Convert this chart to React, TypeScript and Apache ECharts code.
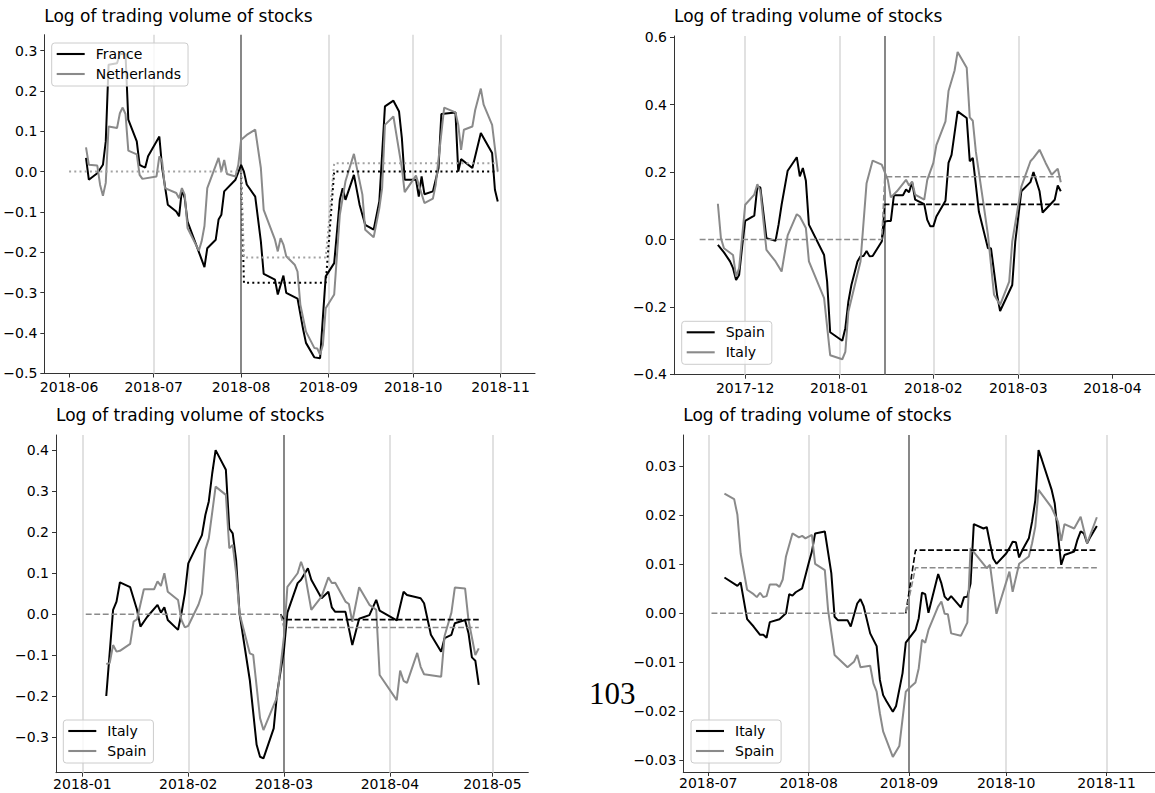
import React, { useEffect, useRef } from "react";
import * as echarts from "echarts";

type Pt = [string, number];

const TITLE = "Log of trading volume of stocks";
const PAGE_NUMBER = "103";

// ---------------- Panel 1 : France / Netherlands ----------------
const p1Names = ["France", "Netherlands"];
const p1France: Pt[] = [
  ["2018-06-07", 0.034], ["2018-06-08", -0.02], ["2018-06-11", -0.004], ["2018-06-13", 0.017],
  ["2018-06-14", 0.075], ["2018-06-15", 0.265], ["2018-06-18", 0.269], ["2018-06-19", 0.292],
  ["2018-06-21", 0.292], ["2018-06-22", 0.129], ["2018-06-25", 0.075], ["2018-06-26", 0.017],
  ["2018-06-27", 0.013], ["2018-06-28", 0.01], ["2018-06-29", 0.038], ["2018-07-03", 0.087],
  ["2018-07-04", 0.009], ["2018-07-06", -0.082], ["2018-07-09", -0.099], ["2018-07-10", -0.111],
  ["2018-07-11", -0.045], ["2018-07-12", -0.066], ["2018-07-13", -0.124], ["2018-07-19", -0.237],
  ["2018-07-20", -0.19], ["2018-07-23", -0.169], ["2018-07-24", -0.119], ["2018-07-25", -0.107],
  ["2018-07-26", -0.049], ["2018-07-30", -0.02], ["2018-08-01", 0.017], ["2018-08-02", 0.0],
  ["2018-08-03", -0.032], ["2018-08-06", -0.062], ["2018-08-08", -0.173], ["2018-08-09", -0.254],
  ["2018-08-13", -0.268], ["2018-08-14", -0.305], ["2018-08-16", -0.258], ["2018-08-17", -0.301],
  ["2018-08-21", -0.315], ["2018-08-23", -0.392], ["2018-08-24", -0.425], ["2018-08-27", -0.461],
  ["2018-08-29", -0.463], ["2018-08-31", -0.26], ["2018-09-03", -0.227], ["2018-09-05", -0.07],
  ["2018-09-06", -0.041], ["2018-09-07", -0.07], ["2018-09-10", -0.008], ["2018-09-12", -0.082],
  ["2018-09-14", -0.132], ["2018-09-17", -0.144], ["2018-09-19", -0.074], ["2018-09-21", 0.162],
  ["2018-09-24", 0.176], ["2018-09-26", 0.149], ["2018-09-27", 0.083], ["2018-09-28", -0.02],
  ["2018-10-02", -0.02], ["2018-10-03", -0.062], ["2018-10-04", -0.012], ["2018-10-05", -0.056],
  ["2018-10-08", -0.049], ["2018-10-10", 0.009], ["2018-10-11", 0.143], ["2018-10-16", 0.147],
  ["2018-10-17", 0.0], ["2018-10-18", 0.031], ["2018-10-22", 0.009], ["2018-10-25", 0.096],
  ["2018-10-29", 0.046], ["2018-10-30", -0.045], ["2018-10-31", -0.074],
];
const p1Netherlands: Pt[] = [
  ["2018-06-07", 0.06], ["2018-06-08", 0.017], ["2018-06-11", 0.015], ["2018-06-12", -0.033],
  ["2018-06-13", -0.06], ["2018-06-14", -0.028], ["2018-06-15", 0.112], ["2018-06-18", 0.108],
  ["2018-06-19", 0.145], ["2018-06-20", 0.159], ["2018-06-21", 0.143], ["2018-06-22", 0.052],
  ["2018-06-25", 0.043], ["2018-06-26", -0.008], ["2018-06-27", -0.018], ["2018-07-02", -0.012],
  ["2018-07-03", 0.038], ["2018-07-04", 0.025], ["2018-07-05", -0.041], ["2018-07-09", -0.053],
  ["2018-07-10", -0.066], ["2018-07-11", -0.041], ["2018-07-12", -0.057], ["2018-07-13", -0.14],
  ["2018-07-17", -0.196], ["2018-07-18", -0.173], ["2018-07-19", -0.135], ["2018-07-20", -0.041],
  ["2018-07-24", 0.034], ["2018-07-25", 0.0], ["2018-07-26", 0.029], ["2018-07-27", -0.006],
  ["2018-07-30", -0.012], ["2018-07-31", 0.017], ["2018-08-01", 0.079], ["2018-08-03", 0.091],
  ["2018-08-06", 0.104], ["2018-08-08", 0.009], ["2018-08-09", -0.095], ["2018-08-13", -0.169],
  ["2018-08-14", -0.198], ["2018-08-15", -0.165], ["2018-08-16", -0.181], ["2018-08-17", -0.21],
  ["2018-08-20", -0.231], ["2018-08-21", -0.248], ["2018-08-22", -0.33], ["2018-08-24", -0.397],
  ["2018-08-27", -0.438], ["2018-08-28", -0.439], ["2018-08-29", -0.454], ["2018-08-30", -0.43],
  ["2018-08-31", -0.339], ["2018-09-03", -0.305], ["2018-09-05", -0.107], ["2018-09-07", -0.024],
  ["2018-09-10", 0.044], ["2018-09-13", -0.057], ["2018-09-14", -0.144], ["2018-09-17", -0.163],
  ["2018-09-19", -0.091], ["2018-09-20", -0.041], ["2018-09-21", 0.116], ["2018-09-24", 0.137],
  ["2018-09-27", 0.009], ["2018-09-28", -0.051], ["2018-10-02", -0.01], ["2018-10-05", -0.078],
  ["2018-10-08", -0.067], ["2018-10-09", -0.033], ["2018-10-12", 0.159], ["2018-10-16", 0.147],
  ["2018-10-17", 0.116], ["2018-10-18", 0.054], ["2018-10-19", 0.104], ["2018-10-22", 0.112],
  ["2018-10-23", 0.153], ["2018-10-25", 0.206], ["2018-10-26", 0.166], ["2018-10-29", 0.116],
  ["2018-10-31", 0.0],
];
const p1FranceMean: Pt[] = [
  ["2018-08-01", 0], ["2018-08-02", -0.276], ["2018-08-31", -0.276], ["2018-09-03", 0], ["2018-10-31", 0],
];
const p1NetherlandsMean: Pt[] = [
  ["2018-06-01", 0], ["2018-08-01", 0], ["2018-08-02", -0.213], ["2018-08-31", -0.213],
  ["2018-09-03", 0.021], ["2018-10-31", 0.021],
];
const p1Event = "2018-08-01";
const p1GridDates = ["2018-07-01", "2018-09-01", "2018-10-01", "2018-11-01"];
const p1XTicks = ["2018-06-01", "2018-07-01", "2018-08-01", "2018-09-01", "2018-10-01", "2018-11-01"];
const p1XRange = ["2018-05-23 05:00", "2018-11-13 05:00"];
const p1YTicks = [-0.5, -0.4, -0.3, -0.2, -0.1, 0, 0.1, 0.2, 0.3];
const p1YRange = [-0.501, 0.3398];

// ---------------- Panel 2 : Spain / Italy ----------------
const p2Names = ["Spain", "Italy"];
const p2Spain: Pt[] = [
  ["2017-11-22", -0.016], ["2017-11-24", -0.038], ["2017-11-26", -0.065], ["2017-11-27", -0.085],
  ["2017-11-28", -0.12], ["2017-11-29", -0.105], ["2017-11-30", -0.021], ["2017-12-01", 0.055],
  ["2017-12-04", 0.071], ["2017-12-05", 0.157], ["2017-12-06", 0.154], ["2017-12-08", 0.004],
  ["2017-12-11", -0.004], ["2017-12-12", 0.044], ["2017-12-13", 0.103], ["2017-12-15", 0.204],
  ["2017-12-18", 0.244], ["2017-12-19", 0.187], ["2017-12-20", 0.212], ["2017-12-21", 0.174],
  ["2017-12-22", 0.044], ["2017-12-27", -0.046], ["2017-12-28", -0.125], ["2017-12-29", -0.275],
  ["2018-01-02", -0.3], ["2018-01-03", -0.263], ["2018-01-04", -0.184], ["2018-01-05", -0.135],
  ["2018-01-07", -0.065], ["2018-01-08", -0.05], ["2018-01-09", -0.049], ["2018-01-10", -0.034],
  ["2018-01-11", -0.05], ["2018-01-12", -0.049], ["2018-01-15", -0.006], ["2018-01-16", 0.053],
  ["2018-01-17", 0.055], ["2018-01-18", 0.055], ["2018-01-19", 0.131], ["2018-01-22", 0.131],
  ["2018-01-23", 0.148], ["2018-01-24", 0.14], ["2018-01-25", 0.17], ["2018-01-26", 0.118],
  ["2018-01-29", 0.105], ["2018-01-30", 0.058], ["2018-01-31", 0.039], ["2018-02-01", 0.039],
  ["2018-02-02", 0.068], ["2018-02-05", 0.115], ["2018-02-06", 0.227], ["2018-02-07", 0.251],
  ["2018-02-09", 0.38], ["2018-02-12", 0.36], ["2018-02-13", 0.232], ["2018-02-14", 0.242],
  ["2018-02-16", 0.083], ["2018-02-19", -0.026], ["2018-02-20", -0.026], ["2018-02-22", -0.164],
  ["2018-02-23", -0.212], ["2018-02-27", -0.135], ["2018-02-28", -0.006], ["2018-03-02", 0.143],
  ["2018-03-05", 0.17], ["2018-03-06", 0.2], ["2018-03-08", 0.143], ["2018-03-09", 0.08],
  ["2018-03-13", 0.118], ["2018-03-14", 0.16], ["2018-03-15", 0.143],
];
const p2Italy: Pt[] = [
  ["2017-11-22", 0.106], ["2017-11-23", 0.004], ["2017-11-24", -0.026], ["2017-11-27", -0.046],
  ["2017-11-28", -0.11], ["2017-11-29", -0.085], ["2017-12-01", 0.103], ["2017-12-04", 0.133],
  ["2017-12-05", 0.164], ["2017-12-06", 0.143], ["2017-12-08", -0.031], ["2017-12-11", -0.065],
  ["2017-12-13", -0.095], ["2017-12-15", 0.012], ["2017-12-18", 0.075], ["2017-12-19", 0.068],
  ["2017-12-21", 0.034], ["2017-12-22", -0.065], ["2017-12-27", -0.174], ["2017-12-29", -0.343],
  ["2018-01-02", -0.355], ["2018-01-03", -0.333], ["2018-01-04", -0.214], ["2018-01-08", -0.065],
  ["2018-01-10", 0.167], ["2018-01-12", 0.234], ["2018-01-15", 0.222], ["2018-01-17", 0.177],
  ["2018-01-18", 0.125], ["2018-01-20", 0.143], ["2018-01-23", 0.177], ["2018-01-24", 0.16],
  ["2018-01-25", 0.172], ["2018-01-26", 0.133], ["2018-01-29", 0.118], ["2018-01-30", 0.177],
  ["2018-02-01", 0.227], ["2018-02-02", 0.28], ["2018-02-05", 0.35], ["2018-02-06", 0.44],
  ["2018-02-08", 0.501], ["2018-02-09", 0.556], ["2018-02-12", 0.509], ["2018-02-13", 0.362],
  ["2018-02-14", 0.352], ["2018-02-15", 0.261], ["2018-02-17", 0.138], ["2018-02-19", 0.014],
  ["2018-02-21", -0.164], ["2018-02-23", -0.194], ["2018-02-26", -0.125], ["2018-02-27", -0.006],
  ["2018-03-02", 0.157], ["2018-03-05", 0.232], ["2018-03-06", 0.242], ["2018-03-08", 0.266],
  ["2018-03-10", 0.227], ["2018-03-12", 0.192], ["2018-03-14", 0.21], ["2018-03-15", 0.17],
];
const p2SpainMean: Pt[] = [["2018-01-15", 0], ["2018-01-16", 0.104], ["2018-03-15", 0.104]];
const p2ItalyMean: Pt[] = [["2017-11-16", 0], ["2018-01-15", 0], ["2018-01-16", 0.186], ["2018-03-15", 0.186]];
const p2Event = "2018-01-16";
const p2GridDates = ["2017-12-01", "2018-01-01", "2018-02-01", "2018-03-01"];
const p2XTicks = ["2017-12-01", "2018-01-01", "2018-02-01", "2018-03-01", "2018-04-01"];
const p2XRange = ["2017-11-07 13:00", "2018-04-15 01:00"];
const p2YTicks = [-0.4, -0.2, 0, 0.2, 0.4, 0.6];
const p2YRange = [-0.4008, 0.6033];

// ---------------- Panel 3 : Italy / Spain ----------------
const p3Names = ["Italy", "Spain"];
const p3Italy: Pt[] = [
  ["2018-01-08", -0.199], ["2018-01-10", 0.011], ["2018-01-11", 0.031], ["2018-01-12", 0.078],
  ["2018-01-15", 0.066], ["2018-01-17", 0.011], ["2018-01-18", -0.03], ["2018-01-20", -0.006],
  ["2018-01-23", 0.023], ["2018-01-24", 0.004], ["2018-01-25", 0.017], ["2018-01-26", -0.014],
  ["2018-01-29", -0.038], ["2018-01-30", 0.002], ["2018-01-31", 0.051], ["2018-02-01", 0.124],
  ["2018-02-05", 0.193], ["2018-02-06", 0.242], ["2018-02-07", 0.275], ["2018-02-08", 0.343],
  ["2018-02-09", 0.4], ["2018-02-12", 0.352], ["2018-02-13", 0.209], ["2018-02-14", 0.197],
  ["2018-02-15", 0.132], ["2018-02-16", 0.002], ["2018-02-19", -0.16], ["2018-02-21", -0.318],
  ["2018-02-22", -0.347], ["2018-02-23", -0.351], ["2018-02-26", -0.278], ["2018-02-27", -0.192],
  ["2018-03-01", -0.087], ["2018-03-02", 0.004], ["2018-03-05", 0.076], ["2018-03-06", 0.084],
  ["2018-03-08", 0.112], ["2018-03-09", 0.084], ["2018-03-12", 0.039], ["2018-03-14", 0.055],
  ["2018-03-15", 0.017], ["2018-03-16", 0.006], ["2018-03-19", 0.006], ["2018-03-21", -0.075],
  ["2018-03-23", -0.011], ["2018-03-26", -0.002], ["2018-03-28", 0.035], ["2018-03-29", 0.009],
  ["2018-04-03", -0.015], ["2018-04-05", 0.055], ["2018-04-06", 0.047], ["2018-04-10", 0.039],
  ["2018-04-11", 0.027], ["2018-04-13", -0.05], ["2018-04-16", -0.091], ["2018-04-17", -0.058],
  ["2018-04-19", -0.05], ["2018-04-20", -0.022], ["2018-04-23", -0.014], ["2018-04-24", -0.046],
  ["2018-04-25", -0.105], ["2018-04-26", -0.113], ["2018-04-27", -0.172],
];
const p3Spain: Pt[] = [
  ["2018-01-08", -0.121], ["2018-01-09", -0.119], ["2018-01-10", -0.075], ["2018-01-11", -0.091],
  ["2018-01-12", -0.089], ["2018-01-15", -0.072], ["2018-01-16", -0.018], ["2018-01-17", -0.012],
  ["2018-01-19", 0.061], ["2018-01-22", 0.061], ["2018-01-23", 0.08], ["2018-01-24", 0.069],
  ["2018-01-25", 0.1], ["2018-01-26", 0.055], ["2018-01-29", 0.035], ["2018-01-30", -0.014],
  ["2018-01-31", -0.032], ["2018-02-01", -0.028], ["2018-02-04", 0.024], ["2018-02-05", 0.05],
  ["2018-02-06", 0.157], ["2018-02-07", 0.185], ["2018-02-09", 0.311], ["2018-02-12", 0.291],
  ["2018-02-13", 0.161], ["2018-02-14", 0.169], ["2018-02-15", 0.1], ["2018-02-16", 0.002],
  ["2018-02-19", -0.095], ["2018-02-20", -0.099], ["2018-02-22", -0.253], ["2018-02-23", -0.282],
  ["2018-02-27", -0.201], ["2018-03-01", -0.054], ["2018-03-02", 0.067], ["2018-03-05", 0.1],
  ["2018-03-06", 0.128], ["2018-03-07", 0.104], ["2018-03-09", 0.011], ["2018-03-12", 0.043],
  ["2018-03-14", 0.09], ["2018-03-15", 0.076], ["2018-03-16", 0.077], ["2018-03-19", 0.031],
  ["2018-03-20", 0.025], ["2018-03-21", -0.018], ["2018-03-23", 0.066], ["2018-03-26", 0.023],
  ["2018-03-28", 0.011], ["2018-03-29", -0.148], ["2018-04-03", -0.209], ["2018-04-04", -0.137],
  ["2018-04-05", -0.162], ["2018-04-06", -0.167], ["2018-04-09", -0.094], ["2018-04-10", -0.128],
  ["2018-04-11", -0.146], ["2018-04-16", -0.152], ["2018-04-17", -0.053], ["2018-04-19", 0.004],
  ["2018-04-20", 0.065], ["2018-04-23", 0.063], ["2018-04-24", -0.014], ["2018-04-26", -0.099],
  ["2018-04-27", -0.083],
];
const p3ItalyMean: Pt[] = [["2018-02-28", 0], ["2018-03-01", -0.013], ["2018-04-27", -0.013]];
const p3SpainMean: Pt[] = [["2018-01-02", 0], ["2018-02-28", 0], ["2018-03-01", -0.032], ["2018-04-27", -0.032]];
const p3Event = "2018-03-01";
const p3GridDates = ["2018-01-01", "2018-02-01", "2018-04-01", "2018-05-01"];
const p3XTicks = ["2018-01-01", "2018-02-01", "2018-03-01", "2018-04-01", "2018-05-01"];
const p3XRange = ["2017-12-24 07:00", "2018-05-11 12:00"];
const p3YTicks = [-0.3, -0.2, -0.1, 0, 0.1, 0.2, 0.3, 0.4];
const p3YRange = [-0.3859, 0.4368];

// ---------------- Panel 4 : Italy / Spain ----------------
const p4Names = ["Italy", "Spain"];
const p4Italy: Pt[] = [
  ["2018-07-06", 0.0073], ["2018-07-10", 0.0056], ["2018-07-11", 0.0063], ["2018-07-13", -0.0012],
  ["2018-07-15", -0.0027], ["2018-07-17", -0.0044], ["2018-07-18", -0.0044], ["2018-07-19", -0.005],
  ["2018-07-20", -0.0018], ["2018-07-23", -0.0012], ["2018-07-25", 0.0], ["2018-07-26", 0.0039],
  ["2018-07-27", 0.0036], ["2018-07-28", 0.0043], ["2018-07-30", 0.0051], ["2018-08-01", 0.0102],
  ["2018-08-02", 0.0126], ["2018-08-03", 0.0163], ["2018-08-06", 0.0167], ["2018-08-08", 0.0082],
  ["2018-08-09", -0.0007], ["2018-08-10", -0.0014], ["2018-08-13", -0.0014], ["2018-08-14", -0.0027],
  ["2018-08-16", 0.002], ["2018-08-17", 0.0029], ["2018-08-18", 0.0014], ["2018-08-20", -0.0041],
  ["2018-08-22", -0.0067], ["2018-08-23", -0.0136], ["2018-08-24", -0.0167], ["2018-08-25", -0.0179],
  ["2018-08-27", -0.0201], ["2018-08-28", -0.0189], ["2018-08-30", -0.0122], ["2018-08-31", -0.006],
  ["2018-09-03", -0.0034], ["2018-09-04", -0.001], ["2018-09-05", 0.0042], ["2018-09-06", 0.0039],
  ["2018-09-07", 0.0001], ["2018-09-10", 0.008], ["2018-09-11", 0.0061], ["2018-09-12", 0.0034],
  ["2018-09-13", 0.0027], ["2018-09-14", 0.0035], ["2018-09-17", 0.0012], ["2018-09-18", 0.0033],
  ["2018-09-19", 0.0034], ["2018-09-20", 0.0061], ["2018-09-21", 0.0182], ["2018-09-24", 0.0173],
  ["2018-09-25", 0.0176], ["2018-09-26", 0.0143], ["2018-09-27", 0.0112], ["2018-09-28", 0.0101],
  ["2018-10-01", 0.0122], ["2018-10-02", 0.0133], ["2018-10-03", 0.0146], ["2018-10-04", 0.0145],
  ["2018-10-05", 0.0114], ["2018-10-06", 0.0129], ["2018-10-08", 0.0153], ["2018-10-09", 0.0187],
  ["2018-10-10", 0.0231], ["2018-10-11", 0.0333], ["2018-10-12", 0.0314], ["2018-10-15", 0.0253],
  ["2018-10-16", 0.0224], ["2018-10-17", 0.016], ["2018-10-18", 0.0099], ["2018-10-19", 0.0119],
  ["2018-10-22", 0.0126], ["2018-10-23", 0.015], ["2018-10-24", 0.0167], ["2018-10-25", 0.0163],
  ["2018-10-26", 0.0143], ["2018-10-27", 0.0156], ["2018-10-29", 0.0178],
];
const p4Spain: Pt[] = [
  ["2018-07-06", 0.0244], ["2018-07-09", 0.0233], ["2018-07-10", 0.0201], ["2018-07-11", 0.0122],
  ["2018-07-13", 0.0048], ["2018-07-15", 0.0039], ["2018-07-16", 0.0033], ["2018-07-17", 0.0042],
  ["2018-07-18", 0.0033], ["2018-07-19", 0.0035], ["2018-07-20", 0.0059], ["2018-07-22", 0.0059],
  ["2018-07-23", 0.0054], ["2018-07-24", 0.0069], ["2018-07-25", 0.0116], ["2018-07-27", 0.0163],
  ["2018-07-29", 0.0155], ["2018-07-30", 0.0158], ["2018-07-31", 0.0153], ["2018-08-02", 0.016],
  ["2018-08-03", 0.0101], ["2018-08-06", 0.0088], ["2018-08-07", 0.0007], ["2018-08-09", -0.0085],
  ["2018-08-13", -0.011], ["2018-08-15", -0.0099], ["2018-08-16", -0.0085], ["2018-08-17", -0.011],
  ["2018-08-20", -0.0107], ["2018-08-21", -0.0143], ["2018-08-22", -0.016], ["2018-08-23", -0.0204],
  ["2018-08-24", -0.0241], ["2018-08-27", -0.0293], ["2018-08-29", -0.0271], ["2018-08-31", -0.016],
  ["2018-09-01", -0.0153], ["2018-09-03", -0.0141], ["2018-09-04", -0.0112], ["2018-09-05", -0.0054],
  ["2018-09-06", -0.006], ["2018-09-07", -0.0034], ["2018-09-10", 0.0014], ["2018-09-11", 0.0024],
  ["2018-09-12", -0.0001], ["2018-09-13", -0.0002], ["2018-09-14", -0.0041], ["2018-09-17", -0.0046],
  ["2018-09-19", -0.0019], ["2018-09-20", 0.0133], ["2018-09-25", 0.0092], ["2018-09-26", 0.0099],
  ["2018-09-28", -0.0001], ["2018-10-02", 0.0085], ["2018-10-03", 0.0044], ["2018-10-05", 0.0101],
  ["2018-10-08", 0.0116], ["2018-10-09", 0.0143], ["2018-10-10", 0.0177], ["2018-10-11", 0.0252],
  ["2018-10-15", 0.0216], ["2018-10-17", 0.0187], ["2018-10-18", 0.0148], ["2018-10-19", 0.0182],
  ["2018-10-22", 0.0173], ["2018-10-24", 0.0197], ["2018-10-25", 0.017], ["2018-10-26", 0.0143],
  ["2018-10-29", 0.0196],
];
const p4ItalyMean: Pt[] = [["2018-08-31", 0], ["2018-09-03", 0.0129], ["2018-10-29", 0.0129]];
const p4SpainMean: Pt[] = [["2018-07-02", 0], ["2018-08-31", 0], ["2018-09-03", 0.0093], ["2018-10-29", 0.0093]];
const p4Event = "2018-09-01";
const p4GridDates = ["2018-07-01", "2018-08-01", "2018-10-01", "2018-11-01"];
const p4XTicks = ["2018-07-01", "2018-08-01", "2018-09-01", "2018-10-01", "2018-11-01"];
const p4XRange = ["2018-06-23 07:00", "2018-11-15 23:00"];
const p4YTicks = [-0.03, -0.02, -0.01, 0, 0.01, 0.02, 0.03];
const p4YRange = [-0.03239, 0.03639];

// ---------------- helpers ----------------
function ts(s: string): number {
  const [d, t] = s.split(" ");
  const [y, m, dd] = d.split("-").map(Number);
  let v = Date.UTC(y, m - 1, dd);
  if (t) {
    const [hh, mm] = t.split(":").map(Number);
    v += hh * 3600000 + (mm || 0) * 60000;
  }
  return v;
}
const fmtMonth = (v: number) => {
  const d = new Date(v);
  return `${d.getUTCFullYear()}-${String(d.getUTCMonth() + 1).padStart(2, "0")}`;
};
const fmtNum = (dec: number) => (v: number) => {
  const s = (Math.abs(v) < 1e-12 ? 0 : v).toFixed(dec);
  return s.replace("-", "\u2212");
};

const BLACK = "#000000";
const GRAY = "#8a8a8a";
const GRAY_DOT = "#a3a3a3";
const AXIS = "#333333";
const FONT = "DejaVu Sans";
const LEGEND_ICON = "path://M0,0H28V2.1H0Z";

const panels = [
  {
    names: p1Names, main: [p1France, p1Netherlands], refs: [p1FranceMean, p1NetherlandsMean], refStyle: "dotted",
    event: p1Event, gridDates: p1GridDates, xTicks: p1XTicks, xRange: p1XRange, yTicks: p1YTicks, yRange: p1YRange, dec: 1,
  },
  {
    names: p2Names, main: [p2Spain, p2Italy], refs: [p2SpainMean, p2ItalyMean], refStyle: "dashed",
    event: p2Event, gridDates: p2GridDates, xTicks: p2XTicks, xRange: p2XRange, yTicks: p2YTicks, yRange: p2YRange, dec: 1,
  },
  {
    names: p3Names, main: [p3Italy, p3Spain], refs: [p3ItalyMean, p3SpainMean], refStyle: "dashed",
    event: p3Event, gridDates: p3GridDates, xTicks: p3XTicks, xRange: p3XRange, yTicks: p3YTicks, yRange: p3YRange, dec: 1,
  },
  {
    names: p4Names, main: [p4Italy, p4Spain], refs: [p4ItalyMean, p4SpainMean], refStyle: "dashed",
    event: p4Event, gridDates: p4GridDates, xTicks: p4XTicks, xRange: p4XRange, yTicks: p4YTicks, yRange: p4YRange, dec: 2,
  },
];

// layout (pixels)
const layout = [
  { grid: { left: 44.3, top: 34.7, width: 490.7, height: 338.8 }, legend: { left: 51.7, top: 43 }, titleY: 15.5, xMargin: 6 },
  { grid: { left: 674, top: 36, width: 491, height: 338.7 }, legend: { left: 681.7, top: 321.3 }, titleY: 15.5, xMargin: 6 },
  { grid: { left: 56, top: 435, width: 472.3, height: 337.7 }, legend: { left: 63.3, top: 720 }, titleY: 414.5, xMargin: 4 },
  { grid: { left: 683.3, top: 435, width: 491, height: 337 }, legend: { left: 691, top: 720 }, titleY: 414.5, xMargin: 4 },
];

function buildOption() {
  const grid: any[] = [];
  const xAxis: any[] = [];
  const yAxis: any[] = [];
  const series: any[] = [];
  const legend: any[] = [];
  const graphic: any[] = [];

  panels.forEach((p, i) => {
    const L = layout[i];
    grid.push({ ...L.grid, containLabel: false });
    const xt = p.xTicks.map(ts);
    xAxis.push({
      type: "value", gridIndex: i, min: ts(p.xRange[0]), max: ts(p.xRange[1]),
      axisLine: { show: true, onZero: false, lineStyle: { color: AXIS, width: 1 } },
      axisTick: { show: true, length: 4, lineStyle: { color: AXIS, width: 1 }, customValues: xt },
      axisLabel: { show: true, customValues: xt, formatter: fmtMonth, fontSize: 14, color: "#000", margin: L.xMargin, fontFamily: FONT },
      splitLine: { show: false },
    });
    yAxis.push({
      type: "value", gridIndex: i, min: p.yRange[0], max: p.yRange[1],
      axisLine: { show: true, onZero: false, lineStyle: { color: AXIS, width: 1 } },
      axisTick: { show: true, length: 4, lineStyle: { color: AXIS, width: 1 }, customValues: p.yTicks },
      axisLabel: { show: true, customValues: p.yTicks, formatter: fmtNum(p.dec), fontSize: 14, color: "#000", margin: 7, fontFamily: FONT },
      splitLine: { show: false },
    });
    // vertical grid lines and event line
    series.push({
      type: "line", xAxisIndex: i, yAxisIndex: i, data: [], silent: true, z: 1,
      markLine: {
        silent: true, symbol: ["none", "none"], label: { show: false }, z: 1, animation: false,
        emphasis: { disabled: true },
        data: [
          ...p.gridDates.map((d) => ({ xAxis: ts(d), lineStyle: { color: "#dadada", width: 1.6, type: "solid" } })),
          { xAxis: ts(p.event), lineStyle: { color: "#6a6a6a", width: 1.6, type: "solid" } },
        ],
      },
    });
    const colors = [BLACK, GRAY];
    p.main.forEach((data, k) => {
      series.push({
        type: "line", name: `${p.names[k]}#${i}`, xAxisIndex: i, yAxisIndex: i,
        data: data.map(([d, v]) => [ts(d), v]),
        showSymbol: false, symbol: "none", silent: true, z: 3,
        lineStyle: { color: colors[k], width: 2 }, itemStyle: { color: colors[k] },
        emphasis: { disabled: true },
      });
    });
    p.refs.forEach((data, k) => {
      const dotted = p.refStyle === "dotted";
      const color = k === 0 ? BLACK : dotted ? GRAY_DOT : GRAY;
      series.push({
        type: "line", xAxisIndex: i, yAxisIndex: i,
        data: data.map(([d, v]) => [ts(d), v]),
        showSymbol: false, symbol: "none", silent: true, z: 4,
        lineStyle: { color, width: dotted ? 2 : 1.6, type: dotted ? [2, 3.2] : [5.9, 2.6], cap: "butt" },
        emphasis: { disabled: true },
      });
    });
    legend.push({
      orient: "vertical", left: L.legend.left, top: L.legend.top,
      data: p.names.map((n) => `${n}#${i}`),
      formatter: (n: string) => n.split("#")[0],
      icon: LEGEND_ICON, symbolKeepAspect: true,
      itemWidth: 28, itemHeight: 14, itemGap: 6,
      padding: [4, 7, 5, 5],
      borderColor: "#cccccc", borderWidth: 1, borderRadius: 3,
      backgroundColor: "rgba(255,255,255,0.8)",
      selectedMode: false, z: 10,
      textStyle: { fontFamily: FONT, fontSize: 14, color: "#000", padding: [0, 0, 0, 6] },
    });
    graphic.push({
      type: "text", x: L.grid.left, y: L.titleY, z: 10,
      style: { text: TITLE, fontFamily: FONT, fontSize: 17, fill: "#000", align: "left", verticalAlign: "middle" },
    });
  });

  graphic.push({
    type: "text", x: 589, y: 693, z: 10,
    style: { text: PAGE_NUMBER, fontFamily: "Liberation Serif", fontSize: 31, fill: "#000", align: "left", verticalAlign: "middle" },
  });

  return {
    animation: false,
    backgroundColor: "#ffffff",
    textStyle: { fontFamily: FONT },
    grid, xAxis, yAxis, series, legend, graphic,
  };
}

export default function App() {
  const ref = useRef<HTMLDivElement>(null);
  useEffect(() => {
    if (!ref.current) return;
    const chart = echarts.init(ref.current, undefined, { renderer: "svg" });
    chart.setOption(buildOption() as any);
    return () => chart.dispose();
  }, []);
  return (
    <div
      ref={ref}
      style={{ position: "absolute", left: 0, top: 0, width: 1155, height: 793, background: "#fff" }}
    />
  );
}
